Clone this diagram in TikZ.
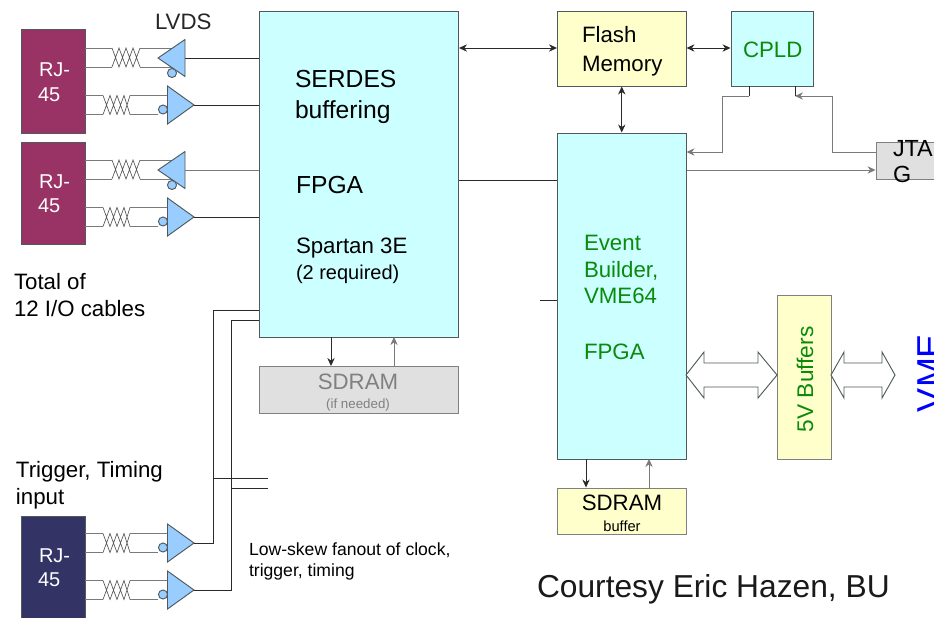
\documentclass[tikz,border=0pt]{standalone}
\usepackage{fontspec}
\setmainfont{Liberation Sans}
\usetikzlibrary{arrows.meta,fit}
\definecolor{cyanbox}{HTML}{CCFFFF}
\definecolor{yelbox}{HTML}{FFFFCC}
\definecolor{greybox}{HTML}{E0E0E0}
\definecolor{maroonbox}{HTML}{993366}
\definecolor{navybox}{HTML}{333366}
\definecolor{triblue}{HTML}{99CCFF}
\definecolor{greentxt}{HTML}{0A8A0A}
\definecolor{edgecol}{HTML}{505A5A}
\definecolor{wirecol}{HTML}{7A7A7A}
\definecolor{linecol}{HTML}{2A2A2A}
\tikzset{
  boxn/.style={draw=edgecol,line width=0.75pt,inner sep=0pt},
  lab/.style={inner sep=0pt,outer sep=0pt,anchor=base west},
  labc/.style={inner sep=0pt,outer sep=0pt,anchor=base},
  big/.style={font=\fontsize{18.5}{20}\selectfont},
  mid/.style={font=\fontsize{16.7}{18}\selectfont},
  conn/.style={draw=linecol,line width=0.65pt},
  tip/.style={conn,-{Stealth[length=6pt,width=5.5pt]}},
  bitip/.style={conn,{Stealth[length=6pt,width=5.5pt]}-{Stealth[length=6pt,width=5.5pt]}},
  wire/.style={draw=wirecol,line width=0.7pt},
  twist/.style={draw=linecol!80!white,line width=0.5pt},
  tri/.style={draw=edgecol,fill=triblue,line width=0.7pt},
  bubble/.style={draw=edgecol,fill=triblue,line width=0.7pt},
  blockar/.style={draw=edgecol,fill=white,line width=0.7pt,line join=miter}
}
% driver pointing right: name, centre y
\newcommand{\drvR}[2]{
  \draw[wire] (85,#2-9.5) -- (103,#2-9.5) (130,#2-9.5) -- (168,#2-9.5)
              (85,#2+9.5) -- (103,#2+9.5) (130,#2+9.5) -- (158,#2+9.5);
  \draw[twist] (103,#2-9.5) -- (110,#2+9.5) -- (117,#2-9.5) -- (124,#2+9.5) -- (130,#2-9.5)
               (103,#2+9.5) -- (110,#2-9.5) -- (117,#2+9.5) -- (124,#2-9.5) -- (130,#2+9.5);
  \draw[bubble] (163,#2+4.5) circle[radius=3.4pt];
  \draw[tri] (167.5,#2-19) -- (194,#2) -- (167.5,#2+19) -- cycle;
  \coordinate (#1) at (194,#2);
}
% driver pointing left: name, centre y
\newcommand{\drvL}[2]{
  \draw[wire] (85,#2-10) -- (112,#2-10) (140,#2-10) -- (172,#2-10)
              (85,#2+9) -- (112,#2+9) (140,#2+9) -- (172,#2+9);
  \draw[twist] (112,#2-10) -- (119,#2+9) -- (126,#2-10) -- (133,#2+9) -- (140,#2-10)
               (112,#2+9) -- (119,#2-10) -- (126,#2+9) -- (133,#2-10) -- (140,#2+9);
  \draw[bubble] (172,#2+15) circle[radius=3.4pt];
  \draw[tri] (185,#2-18.5) -- (158,#2) -- (185,#2+18.5) -- cycle;
  \coordinate (#1) at (185,#2);
}
\begin{document}
\begin{tikzpicture}[x=0.75pt,y=-0.75pt]
\path[use as bounding box,clip] (0,0) rectangle (934,617);
\fill[white] (0,0) rectangle (934,617);

% boxes
\node[boxn,fill=maroonbox,fit={(21,30)(85,133)}] (rja) {};
\node[boxn,fill=maroonbox,fit={(21,142)(85,244)}] (rjb) {};
\node[boxn,fill=navybox,fit={(21,516)(85,630)}] (rjc) {};
\node[boxn,fill=cyanbox,fit={(259,12)(458.5,337)}] (fpga) {};
\node[boxn,fill=greybox,draw=gray,fit={(259,366.5)(458.5,413)}] (sdrama) {};
\node[boxn,fill=yelbox,fit={(557.5,12)(686,86)}] (flash) {};
\node[boxn,fill=cyanbox,fit={(731,12)(813,86)}] (cpld) {};
\node[boxn,fill=cyanbox,fit={(557.5,133)(686,459)}] (evb) {};
\node[boxn,fill=yelbox,draw=gray,fit={(777,295)(831,459)}] (buf) {};
\node[boxn,fill=yelbox,draw=gray,fit={(557.5,488)(686,534)}] (sdramb) {};
\node[boxn,fill=greybox,draw=gray,fit={(876,142)(950,179)}] (jtag) {};

% drivers
\drvL{da}{58}
\drvR{db}{105}
\drvL{dc}{170}
\drvR{dd}{217}
\drvR{de}{543}
\drvR{df}{590}

% connectors
\draw[conn] (da) -- (da -| fpga.west);
\draw[conn] (db) -- (db -| fpga.west);
\draw[conn,draw=wirecol] (dc) -- (dc -| fpga.west);
\draw[conn] (dd) -- (dd -| fpga.west);
\coordinate (fa) at (259,310);
\coordinate (fb) at (259,320);
\coordinate (ea) at (213,543);
\coordinate (eb) at (231,590);
\draw[conn] (de) -- (ea) -- (ea |- fa) -- (fa);
\draw[conn] (df) -- (eb) -- (eb |- fb) -- (fb);
\coordinate (fana) at (268,478);
\coordinate (fanb) at (268,488);
\draw[conn] (ea |- fana) -- (fana);
\draw[conn] (eb |- fanb) -- (fanb);

\coordinate (c1) at (331,337); \coordinate (c2) at (394,337);
\draw[tip] (c1) -- (c1 |- sdrama.north);
\draw[tip,draw=wirecol] (c2 |- sdrama.north) -- (c2);
\coordinate (y48) at (0,48);
\draw[bitip] (fpga.east |- y48) -- (flash.west |- y48);
\draw[bitip] (flash.east |- y48) -- (cpld.west |- y48);
\draw[bitip] (flash.south) -- (flash.south |- evb.north);
\coordinate (y180) at (0,180);
\draw[conn] (fpga.east |- y180) -- (evb.west |- y180);
\coordinate (stub) at (540,300);
\draw[conn] (stub) -- (stub -| evb.west);
\coordinate (s1) at (586,459); \coordinate (s2) at (649,459);
\draw[tip] (s1) -- (s1 |- sdramb.north);
\draw[tip,draw=wirecol] (s2 |- sdramb.north) -- (s2);
% CPLD to event builder
\coordinate (k1) at (749,86); \coordinate (k2) at (749,96); \coordinate (k3) at (722,96); \coordinate (k4) at (722,152);
\draw[conn] (k1) -- (k2);
\draw[tip,draw=wirecol] (k2) -- (k3) -- (k4) -- (k4 -| evb.east);
% JTAG to CPLD
\coordinate (j1) at (876,152); \coordinate (j2) at (832,152); \coordinate (j3) at (832,96); \coordinate (j4) at (795,96); \coordinate (j5) at (795,86);
\draw[tip,draw=wirecol] (j1) -- (j2) -- (j3) -- (j4);
\draw[conn] (j4) -- (j5);
% event builder to JTAG
\coordinate (y170) at (0,170);
\draw[tip,draw=wirecol] (evb.east |- y170) -- (jtag.west |- y170);

% block arrows
\draw[blockar] (686,375) -- (704,352) -- (704,363) -- (758,363) -- (758,352) -- (777,375) -- (758,398) -- (758,387) -- (704,387) -- (704,398) -- cycle;
\draw[blockar] (831,375) -- (844,352) -- (844,363) -- (882,363) -- (882,352) -- (895,375) -- (882,398) -- (882,387) -- (844,387) -- (844,398) -- cycle;

% text
\node[lab,font=\fontsize{16.7}{18}\selectfont,text=black!85] (tlvds) at (155,30) {LVDS};
\node[lab,font=\fontsize{15}{18}\selectfont,text=white] (t1) at (39,76) {RJ-};
\node[lab,font=\fontsize{15}{18}\selectfont,text=white] (t2) at (38,101) {45};
\node[lab,font=\fontsize{15}{18}\selectfont,text=white] (t3) at (39,188) {RJ-};
\node[lab,font=\fontsize{15}{18}\selectfont,text=white] (t4) at (38,212) {45};
\node[lab,font=\fontsize{15}{18}\selectfont,text=white] (t5) at (39,562) {RJ-};
\node[lab,font=\fontsize{15}{18}\selectfont,text=white] (t6) at (38,586) {45};
\node[lab,big] (t7) at (295,88) {SERDES};
\node[lab,big] (t8) at (295,118) {buffering};
\node[lab,big] (t9) at (296,193) {FPGA};
\node[lab,font=\fontsize{16.7}{18}\selectfont] (t10) at (296,253) {Spartan 3E};
\node[lab,font=\fontsize{15}{16}\selectfont] (t11) at (296,279) {(2 required)};
\node[lab,mid] (t12) at (14,289) {Total of};
\node[lab,mid] (t13) at (14,316) {12 I/O cables};
\node[lab,mid] (t14) at (16,477) {Trigger, Timing};
\node[lab,mid] (t15) at (16,504) {input};
\node[lab,font=\fontsize{13.2}{15}\selectfont] (t16) at (249,555) {Low-skew fanout of clock,};
\node[lab,font=\fontsize{13.2}{15}\selectfont] (t17) at (249,576) {trigger, timing};
\node[lab,mid] (t18) at (582,43) {Flash};
\node[lab,mid] (t19) at (582,71) {Memory};
\node[lab,mid,text=greentxt] (t20) at (743,58) {CPLD};
\node[lab,mid,text=greentxt] (t21) at (584,250) {Event};
\node[lab,mid,text=greentxt] (t22) at (584,277) {Builder,};
\node[lab,mid,text=greentxt] (t23) at (584,303) {VME64};
\node[lab,mid,text=greentxt] (t24) at (584,359) {FPGA};
\node[lab,font=\fontsize{17}{18}\selectfont,text=greentxt,rotate=90] (t25) at (813,432) {5V Buffers};
\node[labc,mid,text=gray] (t26) at (358,389) {SDRAM};
\node[labc,font=\fontsize{10}{12}\selectfont,text=gray] (t27) at (358,408) {(if needed)};
\node[labc,mid] (t28) at (622,510) {SDRAM};
\node[labc,font=\fontsize{11}{12}\selectfont] (t29) at (622,531) {buffer};
\node[lab,font=\fontsize{23.8}{26}\selectfont,text=black!90] (t30) at (537,597) {Courtesy Eric Hazen, BU};
\node[lab,font=\fontsize{17.5}{18}\selectfont] (t31) at (893,156) {JTA};
\node[lab,font=\fontsize{17.5}{18}\selectfont] (t32) at (893,182) {G};
\node[lab,font=\fontsize{27}{28}\selectfont,text=blue,rotate=90] (t33) at (942,412) {VME};
\end{tikzpicture}
\end{document}
